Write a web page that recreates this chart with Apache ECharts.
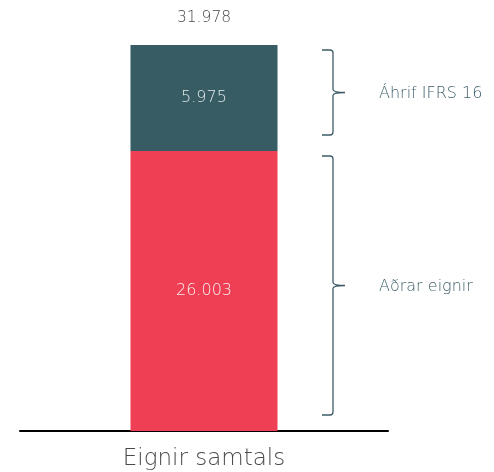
<!DOCTYPE html>
<html><head><meta charset="utf-8">
<script src="https://cdn.jsdelivr.net/npm/echarts@6/dist/echarts.min.js"></script>
<style>html,body{margin:0;padding:0;background:#fff}#c{width:494px;height:472px}</style>
</head><body><div id="c"></div>
<script>
const categories = ['Eignir samtals'];
const otherAssets = [26003];
const ifrs16 = [5975];
const segmentNames = ['Aðrar eignir', 'Áhrif IFRS 16'];
const axisMin = 10220;

const totals = otherAssets.map((v, i) => v + ifrs16[i]);
const fmt = n => String(n).replace(/\B(?=(\d{3})+(?!\d))/g, '.');
const FONT = '"DejaVu Sans", "Open Sans", sans-serif';
const FW = 200;

const braceData = [
  [0, 0, otherAssets[0], segmentNames[0]],
  [0, otherAssets[0], totals[0], segmentNames[1]]
];

const chart = echarts.init(document.getElementById('c'));
chart.setOption({
  animation: false,
  grid: { left: 20, right: 106, top: 45, bottom: 41 },
  xAxis: {
    type: 'category', data: categories,
    axisLine: { lineStyle: { color: '#000', width: 2 } },
    axisTick: { show: false },
    axisLabel: { fontSize: 23, color: '#4a4a4a', margin: 17, fontFamily: FONT, fontWeight: FW }
  },
  yAxis: { type: 'value', min: axisMin, max: totals[0], show: false, splitLine: { show: false } },
  series: [
    {
      type: 'bar', stack: 'a', data: otherAssets, barWidth: 147,
      itemStyle: { color: '#ef3f55' },
      label: { show: true, position: 'inside', color: '#fbeef0', fontSize: 16, fontFamily: FONT, fontWeight: FW, formatter: p => fmt(p.value) }
    },
    {
      type: 'bar', stack: 'a', data: ifrs16, barWidth: 147,
      itemStyle: { color: '#375c63' },
      label: { show: true, position: 'inside', color: '#e2eaeb', fontSize: 16, fontFamily: FONT, fontWeight: FW, formatter: p => fmt(p.value) }
    },
    {
      type: 'scatter', data: totals.map((t, i) => [i, t]), symbolSize: 0, silent: true,
      label: { show: true, position: 'top', distance: 19, color: '#111', fontSize: 15.5, fontFamily: FONT, fontWeight: FW, formatter: p => fmt(p.value[1]) }
    },
    {
      type: 'custom', data: braceData, silent: true, clip: false,
      renderItem: function (params, api) {
        const cs = params.coordSys;
        const a = api.coord([api.value(0), api.value(1)]);
        const b = api.coord([api.value(0), api.value(2)]);
        const yb = Math.min(a[1], cs.y + cs.height) - 16;
        const yt = b[1] + 5;
        const ym = (yt + yb) / 2;
        const x0 = a[0] + 118, xl = x0 + 11, xt = x0 + 23;
        const path = 'M' + x0 + ' ' + yt + ' L' + (xl - 3) + ' ' + yt + ' Q' + xl + ' ' + yt + ' ' + xl + ' ' + (yt + 3) +
          ' L' + xl + ' ' + (ym - 3) + ' Q' + xl + ' ' + ym + ' ' + xt + ' ' + ym +
          ' Q' + xl + ' ' + ym + ' ' + xl + ' ' + (ym + 3) +
          ' L' + xl + ' ' + (yb - 3) + ' Q' + xl + ' ' + yb + ' ' + (xl - 3) + ' ' + yb + ' L' + x0 + ' ' + yb;
        return {
          type: 'group',
          children: [
            { type: 'path', shape: { pathData: path }, style: { fill: 'none', stroke: '#3d5c66', lineWidth: 1.3 } },
            { type: 'text', x: x0 + 57, y: ym + 1, style: { text: api.value(3), fill: '#3f5f6a', fontSize: 16, fontFamily: FONT, fontWeight: FW, verticalAlign: 'middle', align: 'left' } }
          ]
        };
      }
    }
  ]
});
</script></body></html>
